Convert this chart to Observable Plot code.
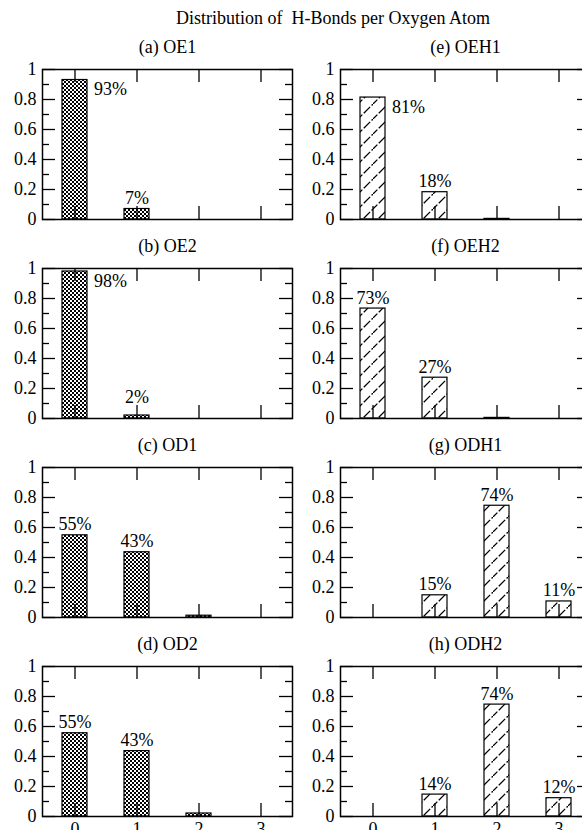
<!DOCTYPE html>
<html>
<head>
<meta charset="utf-8">
<script src="https://cdn.jsdelivr.net/npm/d3@7"></script>
<script src="https://cdn.jsdelivr.net/npm/@observablehq/plot@0.6"></script>
<style>
html, body { margin: 0; padding: 0; background: #fff; overflow: hidden; }
#chart { position: relative; width: 582px; height: 830px; overflow: hidden; background: #fff;
  font-family: "Liberation Serif", "DejaVu Serif", serif; color: #000; }
#title { position: absolute; left: 0; width: 666px; top: 9px; text-align: center;
  font-size: 18px; line-height: 18px; white-space: pre; }
.panel { position: absolute; }
.panel svg { max-width: none !important; overflow: visible; background: transparent; }
.panel svg, .panel svg text, .panel svg g { font-family: "Liberation Serif", "DejaVu Serif", serif !important; font-size: 18px !important; }
</style>
</head>
<body>
<div id="chart">
  <svg width="0" height="0" style="position:absolute;left:0;top:0">
    <defs>
      <pattern id="checker" width="4" height="4" patternUnits="userSpaceOnUse">
        <rect width="4" height="4" fill="white"/>
        <rect width="2" height="2" fill="black"/>
        <rect x="2" y="2" width="2" height="2" fill="black"/>
      </pattern>
      <pattern id="hatch" width="15" height="15" patternUnits="userSpaceOnUse">
        <rect width="15" height="15" fill="white"/>
        <path d="M-2,17 L17,-2" stroke="black" stroke-width="1.3" stroke-dasharray="9 2"/>
      </pattern>
    </defs>
  </svg>
  <div id="title">Distribution of  H-Bonds per Oxygen Atom</div>
</div>
<script>
// ---- data ----
const counts = [0, 1, 2, 3];
const xTickLabels = ["0", "1", "2", "3"];
const yTicks = [0, 0.2, 0.4, 0.6, 0.8, 1];
const yMinorTicks = [0.1, 0.3, 0.5, 0.7, 0.9];

const panelTitles = ["(a) OE1", "(b) OE2", "(c) OD1", "(d) OD2",
                     "(e) OEH1", "(f) OEH2", "(g) ODH1", "(h) ODH2"];

const OE1  = [0.93, 0.07, 0, 0];
const OE2  = [0.98, 0.02, 0, 0];
const OD1  = [0.548, 0.435, 0.012, 0];
const OD2  = [0.555, 0.436, 0.02, 0];
const OEH1 = [0.813, 0.182, 0.004, 0];
const OEH2 = [0.733, 0.272, 0.004, 0];
const ODH1 = [0, 0.148, 0.745, 0.107];
const ODH2 = [0, 0.146, 0.746, 0.122];

const labelsOE1  = ["93%", "7%", "", ""];
const labelsOE2  = ["98%", "2%", "", ""];
const labelsOD1  = ["55%", "43%", "", ""];
const labelsOD2  = ["55%", "43%", "", ""];
const labelsOEH1 = ["81%", "18%", "", ""];
const labelsOEH2 = ["73%", "27%", "", ""];
const labelsODH1 = ["", "15%", "74%", "11%"];
const labelsODH2 = ["", "14%", "74%", "12%"];

const panels = [
  {title: panelTitles[0], values: OE1,  labels: labelsOE1,  col: 0, row: 0},
  {title: panelTitles[1], values: OE2,  labels: labelsOE2,  col: 0, row: 1},
  {title: panelTitles[2], values: OD1,  labels: labelsOD1,  col: 0, row: 2},
  {title: panelTitles[3], values: OD2,  labels: labelsOD2,  col: 0, row: 3},
  {title: panelTitles[4], values: OEH1, labels: labelsOEH1, col: 1, row: 0},
  {title: panelTitles[5], values: OEH2, labels: labelsOEH2, col: 1, row: 1},
  {title: panelTitles[6], values: ODH1, labels: labelsODH1, col: 1, row: 2},
  {title: panelTitles[7], values: ODH2, labels: labelsODH2, col: 1, row: 3}
];

// ---- layout ----
const W = 250, H = 150, ML = 42, MR = 10, MT = 40, MB = 32;
const FS = 18;
const FONT = "'Liberation Serif', 'DejaVu Serif', serif";
const chart = document.getElementById("chart");

function makePanel(p) {
  const data = counts.map((c, i) => ({c, v: p.values[i], label: p.labels[i]}));
  const fill = p.col === 0 ? "url(#checker)" : "url(#hatch)";
  const showX = p.row === 3;
  const tick = {stroke: "black", strokeWidth: 1.3};
  const svg = Plot.plot({
    width: ML + W + MR,
    height: MT + H + MB,
    marginLeft: ML, marginRight: MR, marginTop: MT, marginBottom: MB,
    style: `font-family: ${FONT}; font-size: 18px; background: transparent; overflow: visible; color: black;`,
    x: {type: "band", domain: counts, paddingInner: 0.6, paddingOuter: 0.3,
        axis: showX ? "bottom" : null, tickSize: 0, tickPadding: 6,
        tickFormat: i => xTickLabels[i], label: null},
    y: {domain: [0, 1], ticks: yTicks, tickSize: 0, tickPadding: 6,
        tickFormat: d => String(d), label: null},
    marks: [
      Plot.barY(data.filter(d => d.v > 0), {x: "c", y: "v", fill, stroke: "black", strokeWidth: 1.2}),
      // y ticks (inward, left and right)
      Plot.ruleY(yTicks, {...tick, insetRight: W - 13}),
      Plot.ruleY(yTicks, {...tick, insetLeft: W - 13}),
      Plot.ruleY(yMinorTicks, {...tick, insetRight: W - 7}),
      Plot.ruleY(yMinorTicks, {...tick, insetLeft: W - 7}),
      // x ticks (inward, top and bottom)
      Plot.ruleX(counts, {x: d => d, ...tick, insetBottom: H - 13}),
      Plot.ruleX(counts, {x: d => d, ...tick, insetTop: H - 13}),
      Plot.frame({stroke: "black", strokeWidth: 1.5}),
      // percentage labels
      Plot.text(data.filter(d => d.label && d.v > 0.78), {
        x: "c", y: "v", text: "label", textAnchor: "start", lineAnchor: "top",
        dx: 19, dy: 2.5, fontSize: FS
      }),
      Plot.text(data.filter(d => d.label && d.v <= 0.78), {
        x: "c", y: d => Math.max(d.v, 0.07), text: "label", lineAnchor: "bottom",
        dy: -5, fontSize: FS
      }),
      // panel title
      Plot.text([p.title], {text: d => d, frameAnchor: "top", lineAnchor: "middle", dy: -22, fontSize: FS})
    ]
  });
  svg.setAttribute("font-family", FONT);
  svg.querySelectorAll("g, text").forEach(el => {
    if (el.hasAttribute("font-family")) el.setAttribute("font-family", FONT);
    el.style.fontFamily = FONT;
  });
  return svg;
}

for (const p of panels) {
  const div = document.createElement("div");
  div.className = "panel";
  div.style.left = (p.col === 0 ? 0 : 298) + "px";
  div.style.top = (29 + p.row * 199) + "px";
  div.appendChild(makePanel(p));
  chart.appendChild(div);
}
</script>
</body>
</html>
